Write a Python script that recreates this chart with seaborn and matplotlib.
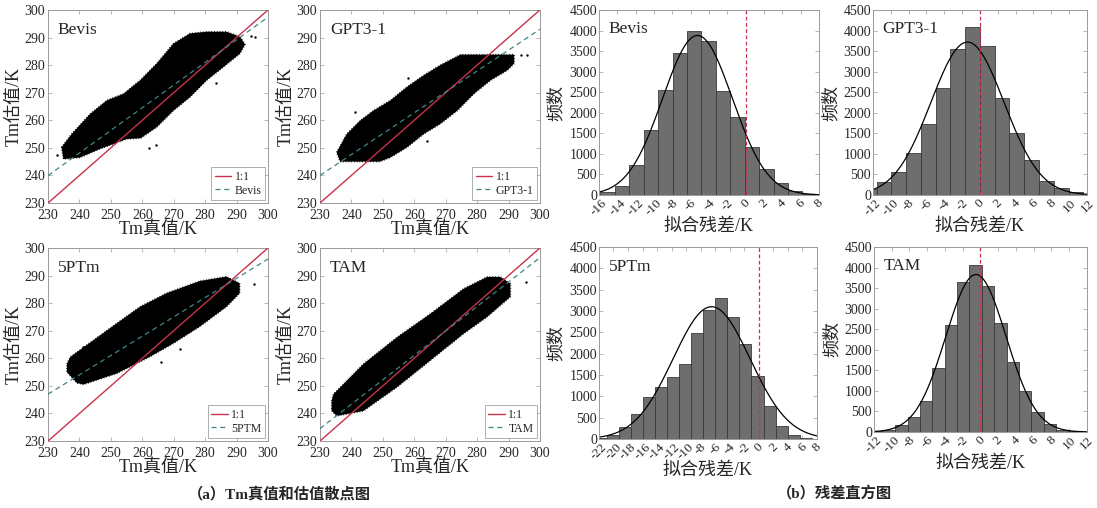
import numpy as np
import pandas as pd
import matplotlib
matplotlib.use('Agg')
import matplotlib.pyplot as plt
import seaborn as sns

sns.set_style('ticks')
plt.rcParams['font.family'] = ['Liberation Serif', 'Noto Sans CJK SC']
plt.rcParams['axes.unicode_minus'] = False

# ---- 散点图数据（从图中读取的点云上下边界）----
models = ['Bevis', 'GPT3-1', '5PTm', 'TAM']
legend_names = ['Bevis', 'GPT3-1', '5PTM', 'TAM']

# 拟合线: 估值 = a + b * 真值
fit_a = [51.1, 65.9, 86.0, 30.7]
fit_b = [0.821, 0.757, 0.700, 0.886]

bevis_up_x = [234.3, 237.5, 243.4, 248.7, 254.0, 259.3, 264.6, 269.9, 275.2, 280.5, 286.8, 291.1, 292.7]
bevis_up_y = [250.2, 255.0, 262.3, 267.2, 269.6, 274.5, 280.6, 287.8, 291.5, 292.1, 292.1, 290.3, 287.5]
bevis_lo_x = [234.3, 234.9, 240.2, 246.5, 250.8, 255.0, 259.5, 264.6, 269.9, 275.2, 280.5, 285.8, 291.1, 292.7]
bevis_lo_y = [250.2, 245.9, 246.5, 249.6, 251.4, 253.2, 253.5, 257.5, 263.5, 268.4, 274.5, 279.3, 284.2, 287.5]
bevis_out_x = [294.5, 296.0, 262.0, 264.5, 283.5, 233.0]
bevis_out_y = [290.5, 290.2, 250.0, 251.0, 273.5, 247.5]

gpt_up_x = [235.3, 238.5, 242.8, 247.0, 252.4, 257.7, 263.0, 268.3, 274.7, 291.8]
gpt_up_y = [248.4, 255.0, 259.9, 263.5, 267.2, 272.1, 276.3, 280.0, 283.8, 283.8]
gpt_lo_x = [235.3, 236.4, 249.0, 252.4, 257.7, 263.0, 268.3, 273.7, 279.0, 284.3, 289.6, 291.8]
gpt_lo_y = [248.4, 245.0, 245.0, 246.5, 250.2, 255.0, 258.7, 263.5, 269.6, 274.5, 278.1, 280.6]
gpt_out_x = [293.9, 295.8, 258.0, 241.0, 264.0]
gpt_out_y = [283.5, 283.5, 275.5, 263.0, 252.5]

ptm_up_x = [236.0, 237.1, 244.5, 251.9, 259.3, 267.7, 278.3, 286.8, 291.0]
ptm_up_y = [258.0, 260.5, 266.6, 272.7, 278.7, 283.6, 288.0, 289.6, 287.2]
ptm_lo_x = [236.0, 239.2, 241.3, 251.9, 262.5, 269.9, 278.3, 286.8, 291.0]
ptm_lo_y = [255.0, 251.0, 250.5, 254.5, 260.6, 265.4, 271.5, 278.7, 283.6]
ptm_out_x = [295.5, 241.0, 266.0, 272.0]
ptm_out_y = [287.0, 264.0, 258.5, 263.5]

tam_up_x = [233.7, 234.3, 243.8, 254.5, 265.1, 275.7, 283.2, 287.4, 290.6]
tam_up_y = [244.6, 247.0, 257.9, 267.6, 276.1, 285.2, 289.5, 289.5, 287.1]
tam_lo_x = [233.7, 235.3, 243.8, 254.5, 265.1, 275.7, 283.2, 290.6]
tam_lo_y = [241.0, 239.1, 240.9, 249.5, 259.2, 268.9, 275.0, 282.3]
tam_out_x = [295.5, 254.0, 243.5, 280.5]
tam_out_y = [287.5, 265.5, 247.0, 276.0]

clouds = [
    (bevis_up_x, bevis_up_y, bevis_lo_x, bevis_lo_y, bevis_out_x, bevis_out_y),
    (gpt_up_x, gpt_up_y, gpt_lo_x, gpt_lo_y, gpt_out_x, gpt_out_y),
    (ptm_up_x, ptm_up_y, ptm_lo_x, ptm_lo_y, ptm_out_x, ptm_out_y),
    (tam_up_x, tam_up_y, tam_lo_x, tam_lo_y, tam_out_x, tam_out_y),
]

# ---- 残差直方图数据 ----
bevis_counts = [65, 227, 722, 1573, 2555, 3463, 3998, 3739, 2538, 1890, 1176, 624, 284, 89, 16]
gpt_counts = [146, 310, 570, 1020, 1720, 2610, 3540, 4080, 3620, 2370, 1500, 840, 350, 170, 70]
ptm_counts = [20, 85, 280, 575, 990, 1225, 1460, 1760, 2490, 3030, 3300, 2860, 2220, 1470, 770, 295, 90, 25]
tam_counts = [20, 57, 180, 360, 760, 1560, 2600, 3640, 4050, 3560, 2660, 1700, 990, 490, 200, 57, 15]
hist_counts = [bevis_counts, gpt_counts, ptm_counts, tam_counts]
bin_start = [-15.85, -13.26, -22.55, -12.38]
bin_width = [1.575, 1.657, 1.657, 1.394]

# 正态拟合曲线参数 (均值, 标准差, 峰值)
fit_mu = [-5.25, -1.4, -6.5, -0.5]
fit_sigma = [3.8, 4.1, 5.3, 3.4]
fit_peak = [3880, 3720, 3100, 3830]

hist_xlim = [(-16, 8), (-12, 12), (-22, 8), (-12, 12)]

# ---- 画布 ----
fig = plt.figure(figsize=(10.97, 5.08), dpi=100)

scatter_pos = [
    [0.0438, 0.6004, 0.2005, 0.380],
    [0.2917, 0.6004, 0.2005, 0.380],
    [0.0438, 0.1319, 0.2005, 0.380],
    [0.2917, 0.1319, 0.2005, 0.380],
]
hist_pos = [
    [0.546, 0.6161, 0.2005, 0.3642],
    [0.7958, 0.6161, 0.195, 0.3642],
    [0.546, 0.1358, 0.1987, 0.378],
    [0.7967, 0.1496, 0.194, 0.3642],
]

red = '#c8324a'
teal = '#3f8585'
frame = '#9a9a9a'


def style_axes(ax):
    for s in ax.spines.values():
        s.set_color(frame)
        s.set_linewidth(0.7)
    ax.tick_params(direction='in', top=True, right=True, length=3,
                   width=0.5, color=frame, pad=1.5)


for i, name in enumerate(models):
    ax = fig.add_axes(scatter_pos[i])
    ux, uy, lx, ly, ox, oy = clouds[i]
    px = np.r_[ux, lx[::-1]]
    py = np.r_[uy, ly[::-1]]
    ax.fill(px, py, color='black', lw=0, zorder=2)
    # 毛糙的边缘
    ax.plot(np.r_[px, px[:1]], np.r_[py, py[:1]], color='black', lw=1.1,
            ls=(0, (0.5, 1.3)), zorder=2)
    sns.scatterplot(x=ox, y=oy, ax=ax, color='black', s=3, linewidth=0, zorder=2)
    xx = np.array([230, 300])
    ax.plot(xx, xx, color=red, lw=1.0, label='1:1', zorder=3)
    ax.plot(xx, fit_a[i] + fit_b[i] * xx, color=teal, lw=0.9, ls=(0, (4, 3)),
            label=legend_names[i], zorder=3)
    ax.set_xlim(230, 300)
    ax.set_ylim(230, 300)
    ax.set_xticks(range(230, 301, 10))
    ax.set_yticks(range(230, 301, 10))
    style_axes(ax)
    ax.tick_params(labelsize=10)
    ax.tick_params(axis='x', pad=4)
    ax.tick_params(axis='y', pad=2)
    ax.set_xlabel('Tm真值/K', fontsize=13, labelpad=0)
    ax.set_ylabel('Tm估值/K', fontsize=13, labelpad=1)
    ax.text(0.045, 0.94, name, transform=ax.transAxes, fontsize=12.5,
            va='top', ha='left')
    leg = ax.legend(loc='lower right', fontsize=8.5, frameon=True, fancybox=False,
                    handlelength=1.4, borderpad=0.3, labelspacing=0.15,
                    borderaxespad=0.25, handletextpad=0.3)
    leg.get_frame().set_edgecolor(frame)
    leg.get_frame().set_linewidth(0.7)

for i, name in enumerate(models):
    ax = fig.add_axes(hist_pos[i])
    counts = np.array(hist_counts[i], dtype=float)
    n = len(counts)
    edges = bin_start[i] + bin_width[i] * np.arange(n + 1)
    centers = (edges[:-1] + edges[1:]) / 2
    df = pd.DataFrame({'residual': centers, 'count': counts})
    sns.histplot(data=df, x='residual', weights='count', bins=list(edges), ax=ax,
                 color='#6e6e6e', edgecolor='#3a3a3a', linewidth=0.6, alpha=1)
    lo, hi = hist_xlim[i]
    xs = np.linspace(lo, hi, 400)
    ax.plot(xs, fit_peak[i] * np.exp(-0.5 * ((xs - fit_mu[i]) / fit_sigma[i]) ** 2),
            color='black', lw=0.9)
    ax.axvline(0, color=red, lw=0.9, ls=(0, (3, 2)))
    ax.set_xlim(lo, hi)
    ax.set_ylim(0, 4500)
    ax.set_xticks(range(lo, hi + 1, 2))
    ax.set_yticks(range(0, 4501, 500))
    ax.tick_params(labelsize=10)
    ax.tick_params(axis='x', labelrotation=45, labelsize=9.5)
    for lab in ax.get_xticklabels():
        lab.set_ha('center')
    style_axes(ax)
    ax.set_xlabel('拟合残差/K', fontsize=13, labelpad=0)
    ax.set_ylabel('频数', fontsize=13)
    ax.yaxis.set_label_coords(-0.155, 0.5)
    ax.text(0.045, 0.94, name, transform=ax.transAxes, fontsize=12.5,
            va='top', ha='left')

fig.text(0.255, 0.027, '（a）Tm真值和估值散点图', ha='center', va='center',
         fontsize=11, fontweight='bold')
fig.text(0.761, 0.027, '（b）残差直方图', ha='center', va='center',
         fontsize=11, fontweight='bold')

fig.savefig('out.png', dpi=100)
